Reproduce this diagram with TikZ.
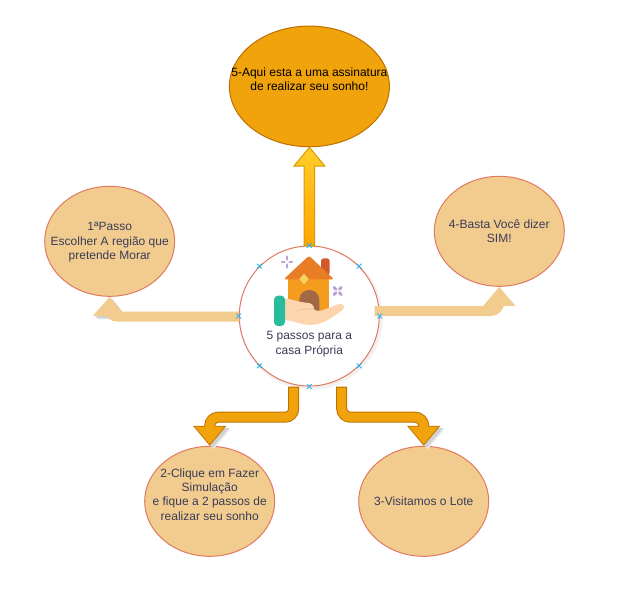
\documentclass[tikz,border=0pt]{standalone}
\usepackage{fontspec}
\setmainfont{Liberation Sans}
\usetikzlibrary{shapes.geometric,arrows.meta,calc}
\definecolor{stepfill}{HTML}{F2CC8F}
\definecolor{stepline}{HTML}{E07A5F}
\definecolor{steptext}{HTML}{393C56}
\definecolor{orangefill}{HTML}{F0A30A}
\definecolor{orangeline}{HTML}{BD7000}
\definecolor{goldtop}{HTML}{FFCD28}
\definecolor{goldbot}{HTML}{FFA500}
\definecolor{goldline}{HTML}{D79B00}
\definecolor{portblue}{HTML}{29B6F2}
\definecolor{chimney}{HTML}{D15829}
\definecolor{wall}{HTML}{F39C1E}
\definecolor{roof}{HTML}{E77D24}
\definecolor{gem}{HTML}{F8D05F}
\definecolor{door}{HTML}{A36946}
\definecolor{skin}{HTML}{FDD6B0}
\definecolor{skinline}{HTML}{F0BE96}
\definecolor{cuff}{HTML}{26BC9C}
\definecolor{lilac}{HTML}{B8A0D6}
\tikzset{
  stepshape/.style={ellipse,draw=stepline,fill=stepfill,line width=.75pt,inner sep=0pt,minimum width=97.5pt,minimum height=82.5pt},
  labeltext/.style={align=center,inner sep=0pt,text=steptext,font=\fontsize{9}{10.8}\selectfont},
  softshadow/.style={preaction={draw=black!8,transform canvas={shift={(3pt,-2.6pt)}}},preaction={draw=black!18,transform canvas={shift={(2pt,-1.8pt)}}}},
  orangearrow/.style={softshadow,draw=orangeline,line width=8.25pt,rounded corners=6.5pt,-{Triangle[width=24pt,length=15pt]},
    postaction={draw=orangefill,line width=6.75pt,shorten >=1.1pt,shorten <=.75pt,-{Triangle[width=21.5pt,length=13.3pt]}}},
  sandarrow/.style={draw=stepfill,line width=7.5pt,rounded corners=6.5pt,-{Triangle[width=23.5pt,length=14.5pt]}},
  sparkle/.style={line width=2.1pt,draw=lilac,line cap=round},
}
\begin{document}
\begin{tikzpicture}[x=.75pt,y=-.75pt]
\useasboundingbox (0,0) rectangle (629,590);
% hub shadow
\fill[black!4] (311,318) circle[radius=72];
\fill[black!6] (310.5,317.5) circle[radius=71];
% nodes
\node[ellipse,draw=orangeline,fill=orangefill,line width=.75pt,inner sep=0pt,minimum width=120pt,minimum height=90.5pt] (goal) at (309.4,86.4) {};
\node[stepshape] (first) at (109.7,241.3) {};
\node[stepshape] (fourth) at (499.3,231.3) {};
\node[stepshape] (second) at (209.7,501.3) {};
\node[stepshape] (third) at (423.7,501.3) {};
\node[circle,draw=stepline,fill=white,line width=.75pt,inner sep=0pt,minimum size=105pt] (hub) at (309.3,316) {};
% texts
\node[labeltext,text=black] (goaltext) at (309.4,79.3) {5-Aqui esta a uma assinatura\\de realizar seu sonho!};
\node[labeltext] (firsttext) at (109.7,242.3) {1ªPasso\\Escolher A região que\\pretende Morar};
\node[labeltext] (fourthtext) at (499.3,231.3) {4-Basta Você dizer\\SIM!};
\node[labeltext] (secondtext) at (209.7,494.5) {2-Clique em Fazer\\Simulação\\e fique a 2 passos de\\realizar seu sonho};
\node[labeltext] (thirdtext) at (423.7,501) {3-Visitamos o Lote};
\node[labeltext] (hubtext) at (309.3,344.2) {5 passos para a\\casa Própria};
% connectors
\draw[orangearrow] ($(hub.south)+(-15.6,0)$) -- ++(0,30.7) -| (second.north);
\draw[orangearrow] ($(hub.south)+(32.4,0)$) -- ++(0,30.7) -| (third.north);
\draw[sandarrow,softshadow] ($(hub.west)+(0,.7)$) -- ++(-129.6,0) -- (first.south);
\draw[sandarrow] ($(hub.east)+(-5.3,-5)$) -| (fourth.south);
% upward arrow
\draw[draw=goldline,line width=.75pt,top color=goldtop,bottom color=goldbot,line join=miter]
  (goal.south) -- ($(goal.south)+(15.6,19)$) -- ($(goal.south)+(5.2,19)$) -- ($(hub.north)+(5.2,0)$)
  -- ($(hub.north)+(-5.2,0)$) -- ($(goal.south)+(-5.2,19)$) -- ($(goal.south)+(-15.6,19)$) -- cycle;
% connection points
\foreach \a in {0,45,...,315}{
  \draw[portblue,line width=.7pt] ($(hub.\a)+(-2.4,-2.4)$) -- ($(hub.\a)+(2.4,2.4)$) ($(hub.\a)+(-2.4,2.4)$) -- ($(hub.\a)+(2.4,-2.4)$);
}
% icon: coordinates are those of a 3x crop whose corner is (220,230)
\begin{scope}[shift={(220,230)},x=.25pt,y=-.25pt]
  \fill[rounded corners=2pt,fill=chimney] (303,85) rectangle (329,135);
  \fill[fill=wall] (205,140) rectangle (328,255);
  \fill[rounded corners=1.2pt,fill=roof] (191,148) -- (267,77) -- (342,148) -- cycle;
  \fill[fill=gem] (252,131) -- (266,147) -- (252,163) -- (238,147) -- cycle;
  \fill[fill=door] (238,250) -- (238,210) .. controls (238,170) and (298,170) .. (298,210) -- (298,250) -- cycle;
  % hand
  \fill[fill=skin] (190,205) .. controls (215,206) and (235,217) .. (258,218)
     .. controls (275,218) and (282,226) .. (282,238) .. controls (290,244) and (300,244) .. (315,238)
     -- (357,222) .. controls (368,218) and (378,230) .. (368,240)
     .. controls (340,258) and (315,284) .. (270,285) .. controls (240,285) and (220,270) .. (190,270) -- cycle;
  \draw[line width=.6pt,draw=skinline] (232,242) .. controls (250,236) and (268,236) .. (282,238);
  \fill[rounded corners=3pt,fill=cuff] (162,197) rectangle (195,288);
  % sparkles
  \draw[sparkle] (201,80) -- (201,88) (201,104) -- (201,112) (186,96) -- (193,96) (209,96) -- (216,96);
  \draw[sparkle] (342,172) -- (348,178) (358,188) -- (364,194) (364,172) -- (358,178) (348,188) -- (342,194);
\end{scope}
\end{tikzpicture}
\end{document}
